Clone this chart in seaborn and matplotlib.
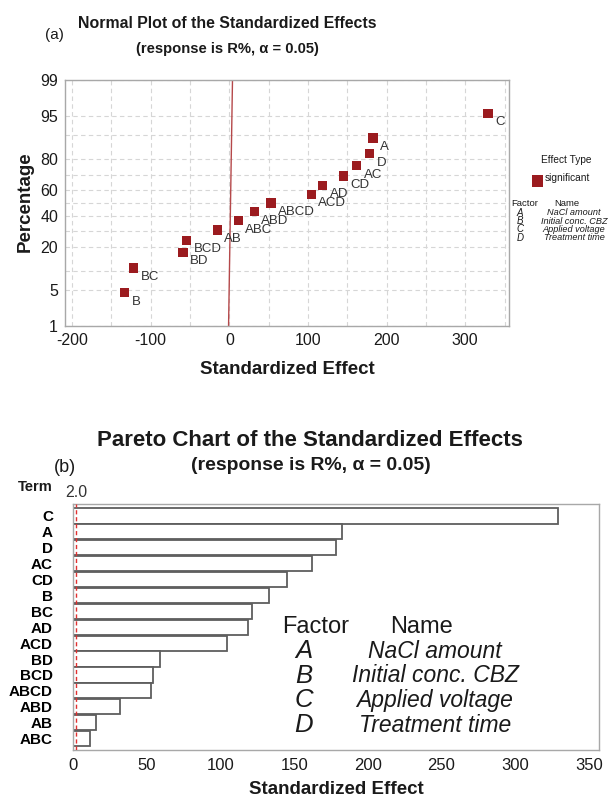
import numpy as np
import pandas as pd
import matplotlib
matplotlib.use("Agg")
import matplotlib.pyplot as plt
import seaborn as sns
from matplotlib import font_manager
from matplotlib.patches import Rectangle
from statistics import NormalDist

# ---------------- data ----------------
terms = ["C", "A", "D", "AC", "CD", "B", "BC", "AD", "ACD", "BD", "BCD", "ABCD", "ABD", "AB", "ABC"]
abs_effects = [329.0, 182.6, 178.3, 161.8, 144.9, 133.1, 121.6, 118.8, 104.4, 59.0, 54.4, 52.9, 31.7, 15.4, 11.5]

np_terms = ["B", "BC", "BD", "BCD", "AB", "ABC", "ABD", "ABCD", "ACD", "AD", "CD", "AC", "D", "A", "C"]
np_effects = [-133.1, -121.6, -59.0, -54.4, -15.4, 11.5, 31.7, 52.9, 104.4, 118.8, 144.9, 161.8, 178.3, 182.6, 329.0]
np_percent = [4.5, 11.0, 17.5, 24.0, 30.5, 37.0, 43.5, 50.0, 56.5, 63.0, 69.5, 76.0, 82.5, 89.0, 95.5]

ref_line_x = [-1.0, 4.0]
ref_line_pct = [1.0, 99.0]

pct_ticks = [1, 5, 20, 40, 60, 80, 95, 99]
pct_grid = [1, 5, 10, 20, 30, 40, 50, 60, 70, 80, 90, 95, 99]
x_ticks_top = [-200, -100, 0, 100, 200, 300]
x_grid_top = [-200, -150, -100, -50, 0, 50, 100, 150, 200, 250, 300, 350]
x_ticks_bottom = [0, 50, 100, 150, 200, 250, 300, 350]
alpha_crit = 2.0

factors = ["A", "B", "C", "D"]
factor_names = ["NaCl amount", "Initial conc. CBZ", "Applied voltage", "Treatment time"]

# ---------------- style ----------------
sns.set_style("white")
avail = {f.name for f in font_manager.fontManager.ttflist}
base = "Liberation Sans" if "Liberation Sans" in avail else "DejaVu Sans"
narrow = "Liberation Sans Narrow" if "Liberation Sans Narrow" in avail else None
plt.rcParams["font.family"] = [base, "DejaVu Sans"]
if narrow:
    tfam, tscale = [narrow, "DejaVu Sans"], 1.0
else:
    tfam, tscale = [base, "DejaVu Sans"], 0.82

W, H = 611, 802
fig = plt.figure(figsize=(W / 100, H / 100), dpi=100)
fig.patch.set_facecolor("white")


def box(l, t, r, b):
    return [l / W, 1 - b / H, (r - l) / W, (b - t) / H]


def fx(x):
    return x / W


def fy(y):
    return 1 - y / H


marker_col = "#9B1B1F"
spine_col = "#A8A8A8"
txt_col = "#1a1a1a"

# ---------------- normal plot ----------------
_nd = NormalDist()
_ppf = np.vectorize(_nd.inv_cdf, otypes=[float])
_cdf = np.vectorize(_nd.cdf, otypes=[float])


def fwd(p):
    p = np.clip(np.asarray(p, dtype=float) / 100.0, 1e-9, 1 - 1e-9)
    return _ppf(p)


def inv(z):
    z = np.asarray(z, dtype=float)
    return _cdf(z) * 100.0


ax1 = fig.add_axes(box(65, 80, 508.5, 326))
ax1.set_yscale("function", functions=(fwd, inv))
ax1.set_xlim(-209, 355)
ax1.set_ylim(1, 99)

ax1.set_xticks(x_ticks_top)
ax1.set_xticks(x_grid_top, minor=True)
ax1.set_yticks(pct_ticks)
ax1.set_yticks(pct_grid, minor=True)
ax1.set_yticklabels([str(p) for p in pct_ticks])
ax1.set_xticklabels([str(x) for x in x_ticks_top])
ax1.yaxis.set_minor_formatter(matplotlib.ticker.NullFormatter())
ax1.grid(True, which="both", color="#D6D6D6", linestyle=(0, (4, 3)), linewidth=0.8)
ax1.set_axisbelow(True)

ax1.plot(ref_line_x, ref_line_pct, color="#B5484A", lw=1.0, zorder=2)
sns.scatterplot(x=np_effects, y=np_percent, marker="s", color=marker_col, s=46,
                edgecolor="none", ax=ax1, zorder=3, legend=False)
for t, x, p in zip(np_terms, np_effects, np_percent):
    ax1.annotate(t, (x, p), xytext=(5, -6.5), textcoords="offset points",
                 ha="left", va="center", fontsize=9.5, color="#333333", zorder=4)

for s in ax1.spines.values():
    s.set_color(spine_col)
    s.set_linewidth(1.0)
ax1.tick_params(which="both", direction="out", length=3, width=0.8, color=spine_col,
                labelsize=11.5, labelcolor=txt_col, pad=2)
ax1.tick_params(which="minor", length=0)
ax1.set_xlabel("")
ax1.set_ylabel("")

fig.text(fx(287), fy(369), "Standardized Effect", ha="center", va="center",
         fontsize=13.5, fontweight="bold", color=txt_col)
fig.text(fx(25), fy(202), "Percentage", ha="center", va="center", rotation=90,
         fontsize=13.5, fontweight="bold", color=txt_col)

# titles (a)
fig.text(fx(227), fy(24), "Normal Plot of the Standardized Effects", ha="center", va="center",
         fontsize=14 * tscale, fontweight="bold", family=tfam, color=txt_col)
fig.text(fx(227), fy(49), "(response is R%, α = 0.05)", ha="center", va="center",
         fontsize=13 * tscale, fontweight="bold", family=tfam, color=txt_col)
fig.text(fx(54), fy(35), "(a)", ha="center", va="center", fontsize=11, color=txt_col)

# legend on right of normal plot
fig.text(fx(566), fy(160), "Effect Type", ha="center", va="center", fontsize=7.3, color=txt_col)
fig.patches.append(Rectangle((fx(532), fy(187)), 11 / W, 12 / H, transform=fig.transFigure,
                             facecolor=marker_col, edgecolor="none"))
fig.text(fx(545), fy(178), "significant", ha="left", va="center", fontsize=7.3, color=txt_col)
fig.text(fx(525), fy(203), "Factor", ha="center", va="center", fontsize=6.8, color=txt_col)
fig.text(fx(567), fy(203), "Name", ha="center", va="center", fontsize=6.8, color=txt_col)
for i, (f, n) in enumerate(zip(factors, factor_names)):
    yy = 212.7 + i * 8.4
    fig.text(fx(520), fy(yy), f, ha="center", va="center", fontsize=7.0, style="italic", color=txt_col)
    fig.text(fx(574), fy(yy), n, ha="center", va="center", fontsize=6.6, style="italic", color=txt_col)

# ---------------- pareto chart ----------------
ax2 = fig.add_axes(box(72.5, 504, 599, 750))
df = pd.DataFrame({"Term": terms, "Effect": abs_effects})
sns.barplot(data=df, x="Effect", y="Term", order=terms, ax=ax2, color="white",
            edgecolor="#5E5E5E", linewidth=1.3, width=0.96, saturation=1, zorder=2)
ax2.set_xlim(-0.6, 357)
ax2.set_ylim(14.72, -0.75)
ax2.axvline(alpha_crit, color="#E03030", linestyle=(0, (3, 2)), lw=1.0, zorder=3)
ax2.annotate(f"{alpha_crit:.1f}", xy=(alpha_crit, 1), xycoords=("data", "axes fraction"),
             xytext=(0, 3), textcoords="offset points", ha="center", va="bottom",
             fontsize=11.5, color="#333333")
ax2.set_xticks(x_ticks_bottom)
ax2.set_xticklabels([str(x) for x in x_ticks_bottom])
for s in ax2.spines.values():
    s.set_color(spine_col)
    s.set_linewidth(1.0)
ax2.tick_params(axis="x", direction="out", length=3, width=0.8, color=spine_col,
                labelsize=12, labelcolor=txt_col, pad=3)
ax2.tick_params(axis="y", direction="out", length=4, width=0.8, color=spine_col,
                labelsize=11, labelcolor="black", pad=10)
for lab in ax2.get_yticklabels():
    lab.set_fontweight("bold")
ax2.set_xlabel("")
ax2.set_ylabel("")
ax2.grid(False)

fig.text(fx(336), fy(789), "Standardized Effect", ha="center", va="center",
         fontsize=13.5, fontweight="bold", color=txt_col)
fig.text(fx(53), fy(487), "Term", ha="right", va="center", fontsize=10.5,
         fontweight="bold", color=txt_col)

fig.text(fx(310), fy(440), "Pareto Chart of the Standardized Effects", ha="center", va="center",
         fontsize=19.6 * tscale, fontweight="bold", family=tfam, color=txt_col)
fig.text(fx(311), fy(466), "(response is R%, α = 0.05)", ha="center", va="center",
         fontsize=17 * tscale, fontweight="bold", family=tfam, color=txt_col)
fig.text(fx(65), fy(467), "(b)", ha="center", va="center", fontsize=13, color=txt_col)

# factor table inside pareto
fig.text(fx(316), fy(627), "Factor", ha="center", va="center", fontsize=17, color=txt_col)
fig.text(fx(421), fy(627), "Name", ha="center", va="center", fontsize=17, color=txt_col)
for i, (f, n) in enumerate(zip(factors, factor_names)):
    yy = 651 + i * 24.7
    fig.text(fx(304), fy(yy), f, ha="center", va="center", fontsize=18.5, style="italic", color=txt_col)
    fig.text(fx(435), fy(yy), n, ha="center", va="center", fontsize=16.5, style="italic", color=txt_col)

fig.savefig("out.png", dpi=100, facecolor="white")
